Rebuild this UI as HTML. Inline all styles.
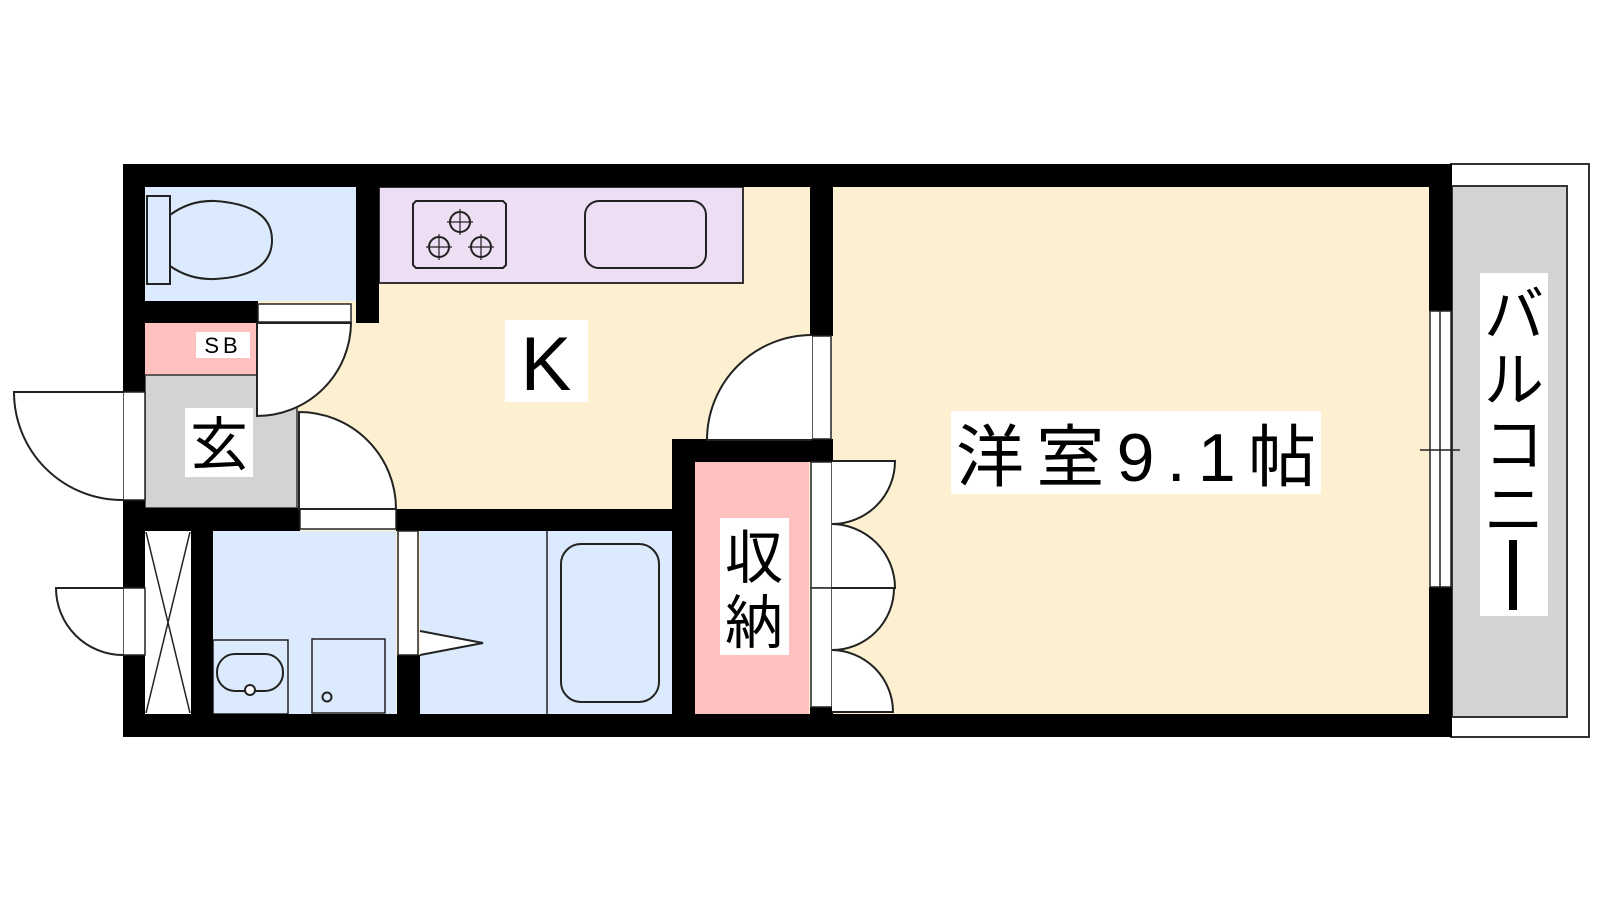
<!DOCTYPE html>
<html><head><meta charset="utf-8"><style>
html,body{margin:0;padding:0;background:#fff;}
svg{display:block;}
text{font-family:"Liberation Sans","Noto Sans CJK JP",sans-serif;fill:#000;}
</style></head><body>
<svg width="1600" height="900" viewBox="0 0 1600 900" xmlns="http://www.w3.org/2000/svg">
<!-- balcony -->
<rect x="1451" y="164" width="138" height="573" fill="#fff" stroke="#333" stroke-width="2"/>
<rect x="1452" y="186" width="115" height="531" fill="#d3d3d3" stroke="#333" stroke-width="2"/>
<rect x="1480" y="273" width="68" height="343" fill="#fff"/>
<text x="1514" y="336" font-size="60" text-anchor="middle">バ</text>
<text x="1514" y="401" font-size="60" text-anchor="middle">ル</text>
<text x="1514" y="466" font-size="60" text-anchor="middle">コ</text>
<text x="1514" y="531" font-size="60" text-anchor="middle">ニ</text>
<rect x="1509" y="540" width="8" height="70" fill="#000"/>

<!-- floors -->
<rect x="145" y="187" width="1284" height="527" fill="#fdf0d0"/>
<rect x="145" y="187" width="211" height="114" fill="#dbebfd"/>
<rect x="379" y="187" width="364" height="96" fill="#eedef3" stroke="#333" stroke-width="2"/>
<rect x="145" y="323" width="111" height="52" fill="#ffc0c0"/>
<rect x="145" y="375" width="152" height="133" fill="#d3d3d3" stroke="#333" stroke-width="1.5"/>
<rect x="145" y="531" width="46" height="183" fill="#fff"/>
<rect x="213" y="531" width="183" height="183" fill="#dbebfd"/>
<rect x="420" y="531" width="252" height="183" fill="#dbebfd"/>
<rect x="695" y="462" width="114" height="252" fill="#ffc0c0"/>

<g fill="none" stroke="#222" stroke-width="2">
<rect x="147" y="196" width="23" height="88"/>
<path d="M170 215 Q190 200 215 201 Q272 205 272 240 Q272 276 215 279 Q190 280 170 266"/>
<path d="M416 201 H503 L506 204 V265 L503 268 H416 L413 265 V204 Z"/>
<circle cx="460" cy="222" r="10"/><circle cx="439" cy="247" r="10"/><circle cx="481" cy="247" r="10"/>
<path d="M460 209v26M447 222h26M439 234v26M426 247h26M481 234v26M468 247h26" stroke-width="1.2"/>
<rect x="585" y="201" width="121" height="67" rx="14"/>
<path d="M146 532 L190 713 M190 532 L146 713" stroke-width="1.5"/>
<rect x="213" y="640" width="75" height="74" stroke-width="1.5"/>
<rect x="217" y="654" width="66" height="37" rx="18"/>
<circle cx="250" cy="690" r="5" fill="#fff"/>
<rect x="312" y="639" width="73" height="74" stroke-width="1.5"/>
<circle cx="327" cy="697" r="4.5"/>
<path d="M547 531 V714" stroke-width="1.5"/>
<rect x="561" y="544" width="98" height="158" rx="20"/>
</g>

<g fill="#000">
<rect x="123" y="164" width="1329" height="23"/>
<rect x="123" y="714" width="1329" height="23"/>
<rect x="123" y="164" width="22" height="228"/>
<rect x="123" y="500" width="22" height="88"/>
<rect x="123" y="655" width="22" height="82"/>
<rect x="1429" y="164" width="23" height="147"/>
<rect x="1429" y="587" width="23" height="150"/>
<rect x="356" y="164" width="23" height="159"/>
<rect x="145" y="301" width="113" height="22"/>
<rect x="145" y="508" width="155" height="23"/>
<rect x="396" y="509" width="276" height="22"/>
<rect x="191" y="531" width="22" height="183"/>
<rect x="397" y="655" width="23" height="59"/>
<rect x="672" y="439" width="23" height="275"/>
<rect x="672" y="439" width="161" height="23"/>
<rect x="810" y="164" width="23" height="172"/>
<rect x="810" y="707" width="23" height="7"/>
</g>

<g fill="#fff" stroke="#222" stroke-width="2">
<rect x="258" y="304" width="93" height="18" stroke-width="1.5"/>
<path d="M257 323 H351 A94 94 0 0 1 257 416 Z"/>
<rect x="123" y="392" width="22" height="108" stroke-width="1.5"/>
<path d="M123 392 H14 A108 108 0 0 0 123 500"/>
<rect x="300" y="509" width="96" height="20" stroke-width="1.5"/>
<path d="M299 509 V412 A97 97 0 0 1 396 509 Z"/>
<rect x="123" y="588" width="22" height="67" stroke-width="1.5"/>
<path d="M123 588 H56 A67 67 0 0 0 123 655"/>
<rect x="398" y="531" width="20" height="124" stroke-width="1.5"/>
<path d="M420 631 L483 643 L420 655"/>
<rect x="812" y="336" width="19" height="103" stroke-width="1.5"/>
<path d="M812 440 H707 A105 105 0 0 1 812 335"/>
<rect x="811" y="462" width="21" height="126" stroke-width="1.5"/>
<rect x="811" y="588" width="21" height="119" stroke-width="1.5"/>
<path d="M832 461 H895 A63 63 0 0 1 832 524"/>
<path d="M832 524 A64 64 0 0 1 895 588 H832"/>
<path d="M832 588 H894 A62 62 0 0 1 832 650"/>
<path d="M832 650 A62 62 0 0 1 893 712 H832"/>
<rect x="1430" y="311" width="21" height="276" stroke-width="1.5"/>
<path d="M1440 311 V587 M1420 450 H1460" stroke-width="1.5"/>
</g>

<rect x="196" y="332" width="54" height="26" fill="#fff"/>
<text x="223" y="353" font-size="22" text-anchor="middle" letter-spacing="4">SB</text>
<rect x="185" y="408" width="68" height="69" fill="#fff"/>
<text x="219" y="465" font-size="58" text-anchor="middle">玄</text>
<rect x="505" y="320" width="83" height="82" fill="#fff"/>
<text x="546" y="390" font-size="76" text-anchor="middle">K</text>
<rect x="720" y="518" width="69" height="137" fill="#fff"/>
<text x="754" y="578" font-size="58" text-anchor="middle">収</text>
<text x="754" y="643" font-size="58" text-anchor="middle">納</text>
<rect x="951" y="411" width="370" height="83" fill="#fff"/>
<text x="956" y="481" font-size="68" textLength="360" lengthAdjust="spacing">洋室9.1帖</text>
</svg>
</body></html>
